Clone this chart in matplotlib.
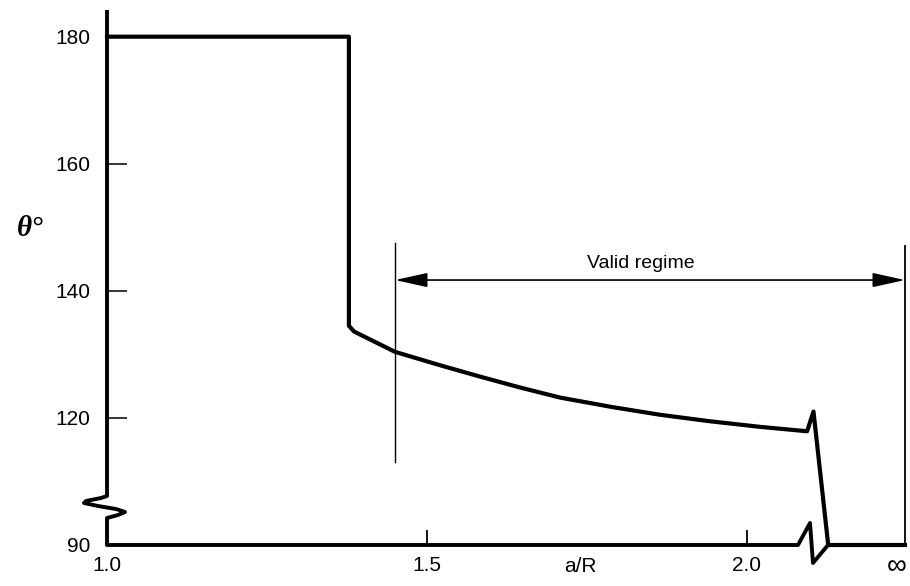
import numpy as np
import matplotlib
matplotlib.use("Agg")
import matplotlib.pyplot as plt
from matplotlib.transforms import ScaledTranslation

plt.rcParams['font.family'] = ['Liberation Sans', 'DejaVu Sans']

# ---------------- data ----------------
a_over_R = [1.0, 1.378, 1.378, 1.386, 1.45, 1.52, 1.583, 1.645, 1.708, 1.79,
            1.864, 1.94, 2.02, 2.094, 2.104, 2.127, 2.247]
theta_deg = [180, 180, 134.5, 133.6, 130.4, 128.3, 126.5, 124.8, 123.2, 121.7,
             120.5, 119.5, 118.6, 117.9, 121.0, 90, 90]

x_ticks = [1.0, 1.5, 2.0, 2.247]
x_tick_labels = ['1.0', '1.5', '2.0', '∞']
y_ticks = [90, 120, 140, 160, 180]
y_tick_labels = ['90', '120', '140', '160', '180']

valid_left = 1.45
valid_right = 2.247
valid_left_span = [113, 147.5]
valid_right_span = [90, 147]
arrow_theta = 141.7

# ---------------- broken y scale ----------------
BREAK = 105.0
def fwd(y):
    y = np.asarray(y, float)
    return np.where(y >= BREAK, y, BREAK - (BREAK - y) / 3.0)

def inv(v):
    v = np.asarray(v, float)
    return np.where(v >= BREAK, v, BREAK - (BREAK - v) * 3.0)

W, H = 910, 586
fig = plt.figure(figsize=(W / 100, H / 100), dpi=100)
ax = fig.add_axes([107 / W, 1 - 545 / H, 798 / W, 535 / H])
ax.set_yscale('function', functions=(fwd, inv))
ax.set_xlim(1.0, 2.247)
ax.set_ylim(90, 184.2)

for s in ax.spines.values():
    s.set_visible(False)

# frame drawn by hand with the axis breaks (axes fraction coords)
def px(xp, yp):
    return ((xp - 107) / 798, (545 - yp) / 535)

frame_px = [(107, 10), (107, 496), (101, 498), (86, 501), (84, 503), (98, 506),
            (116, 509), (125, 512), (118, 515), (107, 518), (107, 545),
            (798, 545), (810, 523), (813, 563), (828, 545), (905, 545)]
fx, fy = zip(*[px(a, b) for a, b in frame_px])
ax.plot(fx, fy, transform=ax.transAxes, color='black', lw=2.8,
        clip_on=False, solid_joinstyle='round', solid_capstyle='butt', zorder=5)

# main curve
ax.plot(a_over_R, theta_deg, color='black', lw=3.0, solid_joinstyle='round',
        clip_on=False, zorder=4)

# valid regime markers
ax.plot([valid_left, valid_left], valid_left_span, color='black', lw=1.0)
ax.plot([valid_right, valid_right], valid_right_span, color='black', lw=1.3,
        clip_on=False)
ax.annotate('', xy=(valid_left, arrow_theta), xytext=(valid_right, arrow_theta),
            arrowprops=dict(arrowstyle='<|-|>,head_length=1.0,head_width=0.22',
                            mutation_scale=20, lw=1.2, color='black',
                            shrinkA=0, shrinkB=0))
ax.text(1.834, 143.6, 'Valid regime', ha='center', va='baseline', fontsize=14)

# ticks
ax.set_xticks(x_ticks, x_tick_labels)
ax.set_yticks(y_ticks, y_tick_labels)
ax.minorticks_off()
ax.tick_params(axis='y', direction='in', length=14.4, width=1.1, pad=12,
               labelsize=15)
ax.tick_params(axis='x', direction='in', length=10.8, width=1.3, pad=8,
               labelsize=15)
inf_tick = ax.xaxis.get_major_ticks()[-1]
inf_tick.tick1line.set_visible(False)
lab = inf_tick.label1
lab.set_fontsize(20)
lab.set_transform(lab.get_transform() + ScaledTranslation(-8 / 100, 2 / 100, fig.dpi_scale_trans))

fig.text(580 / W, 1 - 567 / H, 'a/R', ha='center', va='center', fontsize=15)
fig.text(30 / W, 1 - 228 / H, 'θ°', ha='center', va='center', fontsize=21,
         family=['Liberation Serif', 'DejaVu Serif'], fontstyle='italic',
         fontweight='bold')

fig.savefig('out.png', dpi=100)
